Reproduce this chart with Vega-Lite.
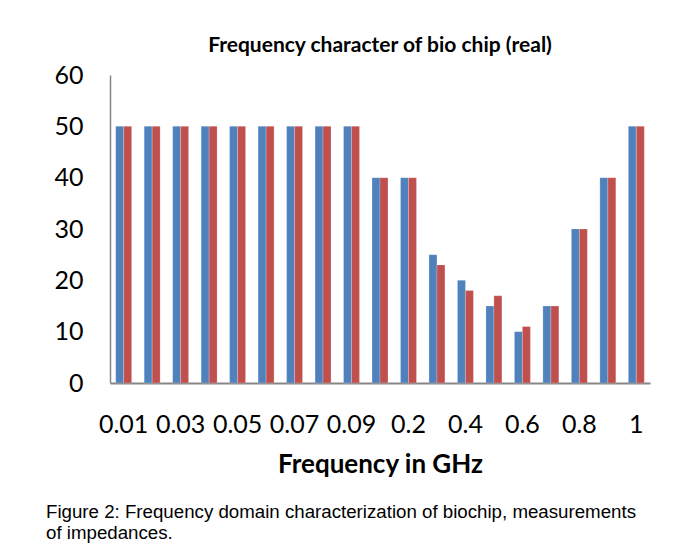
{
  "$schema": "https://vega.github.io/schema/vega-lite/v6.json",
  "background": "white",
  "padding": {"left": 45, "top": 35, "right": 20, "bottom": 5},
  "title": {
    "text": ["Figure 2: Frequency domain characterization of biochip, measurements", "of impedances."],
    "orient": "bottom",
    "anchor": "start",
    "font": "Liberation Sans",
    "fontSize": 18.7,
    "fontWeight": "normal",
    "color": "#000000",
    "lineHeight": 21,
    "offset": 26,
    "dx": -8
  },
  "vconcat": [
    {
      "width": 540,
      "height": 308,
      "title": {
        "text": "Frequency character of bio chip (real)",
        "font": "Lato",
        "fontSize": 21,
        "fontWeight": "bold",
        "color": "#000000",
        "anchor": "middle",
        "offset": 7
      },
      "data": {
        "values": [
          {"freq": "0.01", "series": "A", "value": 50}, {"freq": "0.01", "series": "B", "value": 50},
          {"freq": "0.02", "series": "A", "value": 50}, {"freq": "0.02", "series": "B", "value": 50},
          {"freq": "0.03", "series": "A", "value": 50}, {"freq": "0.03", "series": "B", "value": 50},
          {"freq": "0.04", "series": "A", "value": 50}, {"freq": "0.04", "series": "B", "value": 50},
          {"freq": "0.05", "series": "A", "value": 50}, {"freq": "0.05", "series": "B", "value": 50},
          {"freq": "0.06", "series": "A", "value": 50}, {"freq": "0.06", "series": "B", "value": 50},
          {"freq": "0.07", "series": "A", "value": 50}, {"freq": "0.07", "series": "B", "value": 50},
          {"freq": "0.08", "series": "A", "value": 50}, {"freq": "0.08", "series": "B", "value": 50},
          {"freq": "0.09", "series": "A", "value": 50}, {"freq": "0.09", "series": "B", "value": 50},
          {"freq": "0.1", "series": "A", "value": 40}, {"freq": "0.1", "series": "B", "value": 40},
          {"freq": "0.2", "series": "A", "value": 40}, {"freq": "0.2", "series": "B", "value": 40},
          {"freq": "0.3", "series": "A", "value": 25}, {"freq": "0.3", "series": "B", "value": 23},
          {"freq": "0.4", "series": "A", "value": 20}, {"freq": "0.4", "series": "B", "value": 18},
          {"freq": "0.5", "series": "A", "value": 15}, {"freq": "0.5", "series": "B", "value": 17},
          {"freq": "0.6", "series": "A", "value": 10}, {"freq": "0.6", "series": "B", "value": 11},
          {"freq": "0.7", "series": "A", "value": 15}, {"freq": "0.7", "series": "B", "value": 15},
          {"freq": "0.8", "series": "A", "value": 30}, {"freq": "0.8", "series": "B", "value": 30},
          {"freq": "0.9", "series": "A", "value": 40}, {"freq": "0.9", "series": "B", "value": 40},
          {"freq": "1", "series": "A", "value": 50}, {"freq": "1", "series": "B", "value": 50}
        ]
      },
      "mark": {"type": "bar", "stroke": "#ffffff", "strokeOpacity": 0.35, "strokeWidth": 0.6},
      "encoding": {
        "x": {
          "field": "freq",
          "type": "ordinal",
          "sort": null,
          "scale": {"paddingInner": 0.44, "paddingOuter": 0.2},
          "axis": {
            "values": ["0.01", "0.03", "0.05", "0.07", "0.09", "0.2", "0.4", "0.6", "0.8", "1"],
            "labelAngle": 0,
            "labelFont": "Lato",
            "labelFontSize": 25,
            "labelColor": "#000000",
            "labelPadding": 29,
            "ticks": false,
            "domainColor": "#868686",
            "domainWidth": 2,
            "title": "Frequency in GHz",
            "titleFont": "Lato",
            "titleFontSize": 26,
            "titleFontWeight": "bold",
            "titleColor": "#000000",
            "titlePadding": 14
          }
        },
        "xOffset": {"field": "series", "type": "nominal", "scale": {"paddingInner": 0, "paddingOuter": 0}},
        "y": {
          "field": "value",
          "type": "quantitative",
          "scale": {"domain": [0, 60]},
          "axis": {
            "values": [0, 10, 20, 30, 40, 50, 60],
            "grid": false,
            "ticks": false,
            "labelFont": "Lato",
            "labelFontSize": 25,
            "labelColor": "#000000",
            "labelPadding": 27,
            "domainColor": "#868686",
            "domainWidth": 1.5,
            "title": null
          }
        },
        "color": {
          "field": "series",
          "type": "nominal",
          "scale": {"domain": ["A", "B"], "range": ["#4F81BD", "#C0504D"]},
          "legend": null
        }
      }
    }
  ],
  "config": {"view": {"stroke": null}}
}
